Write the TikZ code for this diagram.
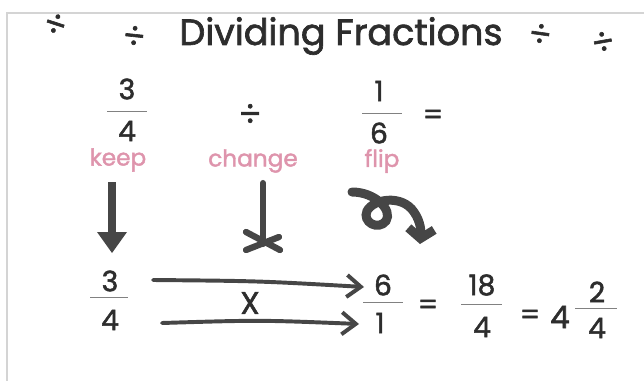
\documentclass[tikz,border=0pt]{standalone}
\usepackage{fontspec}
\setmainfont{Poppins}[FakeBold=1.8]
\usetikzlibrary{arrows.meta}
\definecolor{ink}{RGB}{45,45,45}
\definecolor{marker}{RGB}{70,70,70}
\definecolor{pinkhand}{RGB}{222,148,172}
\definecolor{framegray}{RGB}{212,212,212}

\begin{document}
\begin{tikzpicture}[x=0.025cm, y=-0.025cm, >=stealth,
    digit/.style={text=ink, font=\fontsize{20}{20}\selectfont},
    word/.style={text=pinkhand, font=\fontsize{16.5}{16.5}\selectfont},
    deco/.style={text=ink, font=\fontsize{24}{24}\selectfont},
    bar/.style={draw=ink!60, line width=0.7pt},
    pen/.style={draw=marker, line width=#1, line cap=round},
    pen/.default=2pt]
    \useasboundingbox (0,0) rectangle (644,381);

    \coordinate (F1) at (7,381);
    \coordinate (F2) at (7,13);
    \coordinate (F3) at (644,13);
    \draw[framegray, line width=1.5pt] (F1)--(F2)--(F3);

    \node[font=\fontsize{26}{26}\selectfont, text=ink] (title) at (341,36) {Dividing Fractions};
    \node[deco, rotate=-18] (d1) at (55,25) {÷};
    \node[deco, rotate=-6] (d2) at (134,37) {÷};
    \node[deco, rotate=-8] (d3) at (540,35) {÷};
    \node[deco, rotate=10] (d4) at (603,43) {÷};

    \node[digit] (n1) at (127,89) {3};
    \node[digit] (m1) at (127,131) {4};
    \draw[bar] (107,111) -- (147,111);
    \node[deco] (div) at (250,115) {÷};
    \node[digit] (n2) at (379,91) {1};
    \node[digit] (m2) at (379,133) {6};
    \draw[bar] (362,113) -- (402,113);
    \node[digit] (eq1) at (433,117) {=};

    \node[word] (keep) at (118,160) {keep};
    \node[word] (change) at (253,161) {change};
    \node[word] (flip) at (382,161) {flip};

    \draw[pen=5.7pt, line cap=butt] (112,182) -- (112,236);
    \fill[color=marker] (97,232) -- (127,232) -- (112,253) -- cycle;

    \draw[pen=4.3pt] (263,183) -- (263,244);
    \draw[pen=4.5pt] (246,232) -- (280,250);
    \draw[pen=4.5pt] (246,250) -- (279,237);

    \draw[pen=6.4pt, -{Straight Barb[length=2.4mm, width=6.5mm]}]
        (352,192) .. controls (375,192) and (393,210) .. (386,221)
        .. controls (378,231) and (362,222) .. (367,211)
        .. controls (373,199) and (402,194) .. (414,212)
        .. controls (421,222) and (421,232) .. (420,244);

    \node[digit] (n3) at (110,281) {3};
    \node[digit] (m3) at (110,320) {4};
    \draw[bar] (90,297) -- (128,297);
    \node[digit, font=\fontsize{22}{22}\selectfont] (times) at (250,303) {X};
    \node[digit] (n4) at (383,285) {6};
    \node[digit] (m4) at (380,323) {1};
    \draw[bar] (363,302) -- (403,302);
    \node[digit] (eq2) at (428,307) {=};
    \node[digit] (n5) at (482,285) {18};
    \node[digit] (m5) at (482,327) {4};
    \draw[bar] (461,304) -- (502,304);
    \node[digit] (eq3) at (530,317) {=};
    \node[digit, font=\fontsize{22}{22}\selectfont] (whole) at (560,317) {4};
    \node[digit] (n6) at (597,292) {2};
    \node[digit] (m6) at (597,328) {4};
    \draw[bar] (575,308) -- (617,308);

    \coordinate (topA) at (153,280);
    \coordinate (topB) at (364,287);
    \coordinate (botA) at (162,323);
    \coordinate (botB) at (359,324);
    \draw[pen=2.8pt, -{Straight Barb[length=3.5mm, width=5.5mm]}]
        (topA) .. controls (260,281) .. (topB);
    \draw[pen=2.8pt, -{Straight Barb[length=3.5mm, width=5.5mm]}]
        (botA) .. controls (260,320) .. (botB);
\end{tikzpicture}
\end{document}
